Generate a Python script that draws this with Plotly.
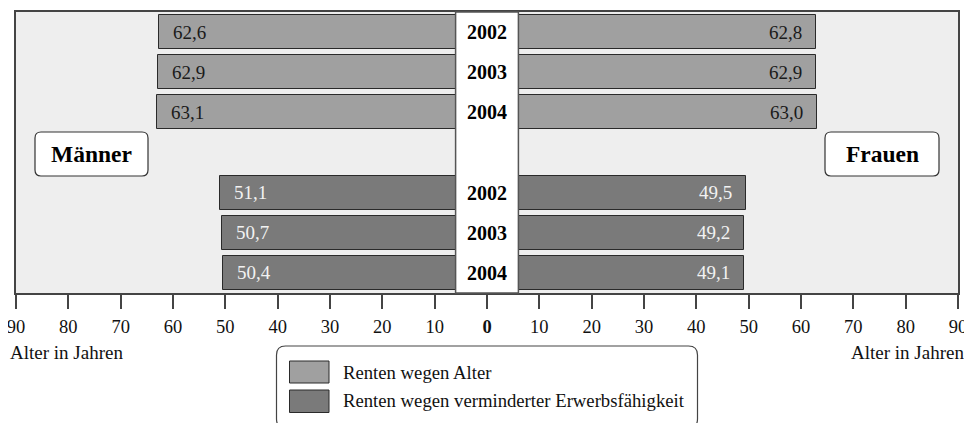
import plotly.graph_objects as go

# ---------------- data ----------------
years = ["2002", "2003", "2004"]
maenner_alter = [62.6, 62.9, 63.1]
frauen_alter = [62.8, 62.9, 63.0]
maenner_erw = [51.1, 50.7, 50.4]
frauen_erw = [49.5, 49.2, 49.1]
tick_values = list(range(-90, 91, 10))
tick_labels = ["<b>0</b>" if v == 0 else str(abs(v)) for v in tick_values]
series_names = ["Renten wegen Alter", "Renten wegen verminderter Erwerbsfähigkeit"]

# row slots: 0..2 Alter, 3 empty, 4..6 Erwerbsfähigkeit
rows_alter = [0, 1, 2]
rows_erw = [4, 5, 6]

C_LIGHT = "#a0a0a0"
C_DARK = "#7a7a7a"
C_EDGE = "#2a2a2a"
FONT = "Liberation Serif"

# the page body adds an 8px offset; the figure is sized so it fits the window
OFF = 8
W, H = 972 - OFF, 423 - OFF
ML, MR, MT, MB = 8, 14, 4, 130
PW, PH = W - ML - MR, H - MT - MB


def px(x):  # screen pixel -> paper
    return (x - OFF - ML) / PW


def py(y):
    return 1 - (y - OFF - MT) / PH


def rrect(x0, y0, x1, y1, r):
    # rounded rectangle in screen pixel coords -> paper path
    rx, ry = r / PW, r / PH
    X0, X1, Y0, Y1 = px(x0), px(x1), py(y0), py(y1)  # Y0 top, Y1 bottom
    return (f"M {X0+rx},{Y0} L {X1-rx},{Y0} Q {X1},{Y0} {X1},{Y0-ry} "
            f"L {X1},{Y1+ry} Q {X1},{Y1} {X1-rx},{Y1} "
            f"L {X0+rx},{Y1} Q {X0},{Y1} {X0},{Y1+ry} "
            f"L {X0},{Y0-ry} Q {X0},{Y0} {X0+rx},{Y0} Z")


fig = go.Figure()

def add_bars(vals, rows, color):
    fig.add_trace(go.Bar(x=vals, y=rows, orientation="h", width=0.85,
                         marker=dict(color=color, line=dict(color=C_EDGE, width=1)),
                         showlegend=False, hoverinfo="skip"))

add_bars([-v for v in maenner_alter], rows_alter, C_LIGHT)
add_bars(frauen_alter, rows_alter, C_LIGHT)
add_bars([-v for v in maenner_erw], rows_erw, C_DARK)
add_bars(frauen_erw, rows_erw, C_DARK)

annotations = []

def value_labels(m_vals, f_vals, rows, color):
    for mv, fv, r in zip(m_vals, f_vals, rows):
        annotations.append(dict(x=-mv, y=r, xref="x", yref="y", text=f"{mv:.1f}".replace(".", ","),
                                 xanchor="left", yanchor="middle", xshift=12, showarrow=False,
                                 font=dict(family=FONT, size=19, color=color)))
        annotations.append(dict(x=fv, y=r, xref="x", yref="y", text=f"{fv:.1f}".replace(".", ","),
                                 xanchor="right", yanchor="middle", xshift=-12, showarrow=False,
                                 font=dict(family=FONT, size=19, color=color)))

value_labels(maenner_alter, frauen_alter, rows_alter, "#1a1a1a")
value_labels(maenner_erw, frauen_erw, rows_erw, "#f2f2f2")

for rows in (rows_alter, rows_erw):
    for yr, r in zip(years, rows):
        annotations.append(dict(x=0, y=r, xref="x", yref="y", text=f"<b>{yr}</b>",
                                 xanchor="center", yanchor="middle",
                                 showarrow=False, font=dict(family=FONT, size=20, color="#000")))

# gender labels
annotations.append(dict(x=px(91.5), y=py(154), xref="paper", yref="paper", text="<b>Männer</b>",
                         xanchor="center", yanchor="middle",
                         showarrow=False, font=dict(family=FONT, size=23.5, color="#000")))
annotations.append(dict(x=px(882), y=py(154), xref="paper", yref="paper", text="<b>Frauen</b>",
                         xanchor="center", yanchor="middle",
                         showarrow=False, font=dict(family=FONT, size=23.5, color="#000")))

# axis titles
annotations.append(dict(x=px(8), y=py(352), xref="paper", yref="paper", text="Alter in Jahren",
                         xanchor="left", yanchor="middle", showarrow=False,
                         font=dict(family=FONT, size=19, color="#111")))
annotations.append(dict(x=px(966), y=py(352), xref="paper", yref="paper", text="Alter in Jahren",
                         xanchor="right", yanchor="middle", showarrow=False,
                         font=dict(family=FONT, size=19, color="#111")))

# legend text
for name, yy in zip(series_names, [372, 400]):
    annotations.append(dict(x=px(341), y=py(yy), xref="paper", yref="paper", text=name,
                             xanchor="left", yanchor="middle", showarrow=False,
                             font=dict(family=FONT, size=18.7, color="#111")))

shapes = [
    # central white column
    dict(type="rect", xref="x", yref="paper", x0=-6, x1=6, y0=0, y1=1,
         fillcolor="white", line=dict(color="#555", width=1.5), layer="above"),
    # gender boxes
    dict(type="path", xref="paper", yref="paper", path=rrect(35, 132, 148, 176, 6),
         fillcolor="white", line=dict(color="#333", width=1.2), layer="above"),
    dict(type="path", xref="paper", yref="paper", path=rrect(825, 132, 939, 176, 6),
         fillcolor="white", line=dict(color="#333", width=1.2), layer="above"),
    # legend box
    dict(type="path", xref="paper", yref="paper", path=rrect(276.5, 346, 697.5, 428, 9),
         fillcolor="white", line=dict(color="#444", width=1.2), layer="above"),
    # legend swatches
    dict(type="rect", xref="paper", yref="paper", x0=px(289.5), x1=px(329), y0=py(361), y1=py(383),
         fillcolor=C_LIGHT, line=dict(color=C_EDGE, width=1), layer="above"),
    dict(type="rect", xref="paper", yref="paper", x0=px(289.5), x1=px(329), y0=py(390), y1=py(412.5),
         fillcolor=C_DARK, line=dict(color=C_EDGE, width=1), layer="above"),
]

fig.update_layout(
    width=W, height=H,
    margin=dict(l=ML, r=MR, t=MT, b=MB, pad=0, autoexpand=False),
    plot_bgcolor="#eeeeee", paper_bgcolor="white",
    barmode="overlay", bargap=0,
    showlegend=False,
    annotations=annotations, shapes=shapes,
    xaxis=dict(range=[-90, 90], tickvals=tick_values, ticktext=tick_labels,
               ticks="outside", ticklen=14, tickwidth=1.5, tickcolor="#444",
               showline=True, mirror=True, linecolor="#444", linewidth=1.5,
               showgrid=False, zeroline=False, ticklabelstandoff=2, automargin=False,
               ticklabeloverflow="allow",
               tickfont=dict(family=FONT, size=18.5, color="#111"), fixedrange=True),
    yaxis=dict(range=[6.5, -0.5], showticklabels=False, showgrid=False, zeroline=False,
               automargin=False,
               showline=True, mirror=True, linecolor="#444", linewidth=1.5, fixedrange=True),
)

fig.write_html("out.html")
